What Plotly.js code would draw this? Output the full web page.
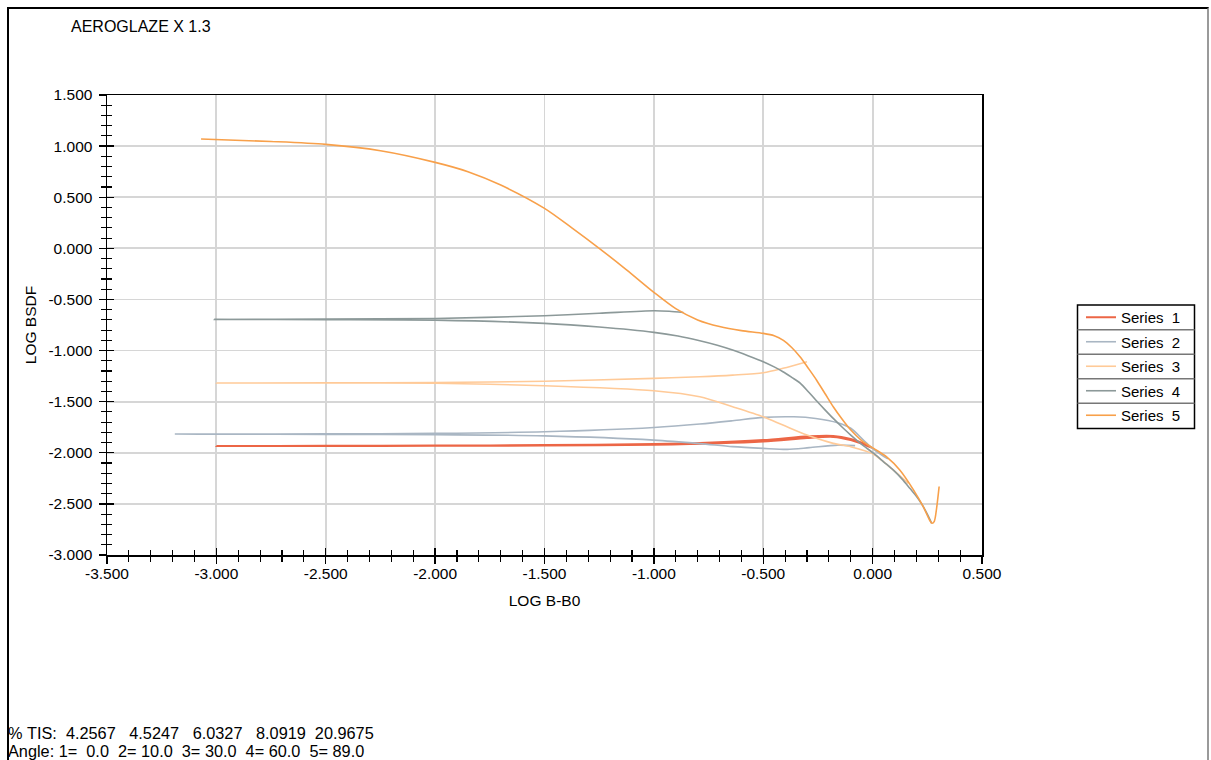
<!DOCTYPE html>
<html>
<head>
<meta charset="utf-8">
<script src="https://cdn.plot.ly/plotly-3.0.1.min.js"></script>
<style>
  html, body { margin: 0; padding: 0; background: #fff; }
  #chart { position: absolute; left: 0; top: 0; width: 1211px; height: 760px; }
  #frame { position: absolute; left: 7px; top: 7px; width: 1198px; height: 800px;
           border-left: 2px solid #000; border-top: 2px solid #000; border-right: 2px solid #9a9a9a;
           pointer-events: none; }
</style>
</head>
<body>
<div id="chart"></div>
<div id="frame"></div>
<script>
// ---------------- DATA ----------------
const chartTitle = 'AEROGLAZE X 1.3';
const xTitle = 'LOG B-B0';
const yTitle = 'LOG BSDF';
const seriesNames = ['Series\u00A0\u00A01', 'Series\u00A0\u00A02', 'Series\u00A0\u00A03', 'Series\u00A0\u00A04', 'Series\u00A0\u00A05'];

const xTickVals = [-3.5, -3.0, -2.5, -2.0, -1.5, -1.0, -0.5, 0.0, 0.5];
const xTickText = ['-3.500', '-3.000', '-2.500', '-2.000', '-1.500', '-1.000', '-0.500', '0.000', '0.500'];
const yTickVals = [1.5, 1.0, 0.5, 0.0, -0.5, -1.0, -1.5, -2.0, -2.5, -3.0];
const yTickText = ['1.500', '1.000', '0.500', '0.000', '-0.500', '-1.000', '-1.500', '-2.000', '-2.500', '-3.000'];

const tisValues = [4.2567, 4.5247, 6.0327, 8.0919, 20.9675];
const angles = [0.0, 10.0, 30.0, 60.0, 89.0];

// Series 1 (0 deg)
const s1x = [0.0, -0.05, -0.10, -0.18, -0.29, -0.50, -0.79, -1.0, -1.5, -2.0, -2.5, -3.0,
             -2.5, -2.0, -1.5, -1.0, -0.5, -0.3, -0.18, -0.10, -0.05, 0.0];
const s1y = [-1.955, -1.90, -1.865, -1.835, -1.838, -1.876, -1.905, -1.915, -1.925, -1.930, -1.932, -1.934,
             -1.933, -1.932, -1.930, -1.922, -1.890, -1.855, -1.845, -1.875, -1.910, -1.955];
// Series 2 (10 deg)
const s2x = [0.07, 0.04, 0.0, -0.04, -0.10, -0.16, -0.26, -0.36, -0.50, -0.64, -0.79, -1.0, -1.5, -2.0, -2.5, -3.0, -3.19,
             -3.0, -2.5, -2.0, -1.5, -1.0, -0.79, -0.64, -0.50, -0.39, -0.29, -0.16, -0.08];
const s2y = [-2.06, -2.02, -1.96, -1.88, -1.76, -1.706, -1.664, -1.648, -1.654, -1.687, -1.719, -1.752, -1.794, -1.810, -1.815, -1.817, -1.817,
             -1.818, -1.820, -1.822, -1.835, -1.876, -1.910, -1.940, -1.957, -1.967, -1.950, -1.925, -1.930];
// Series 3 (30 deg)
const s3x = [-0.30, -0.41, -0.50, -0.64, -0.79, -1.0, -1.5, -2.0, -2.5, -3.0,
             -2.5, -2.0, -1.5, -1.0, -0.79, -0.64, -0.50, -0.41, -0.30, -0.18, -0.10, 0.0, 0.095, 0.163];
const s3y = [-1.109, -1.174, -1.217, -1.240, -1.256, -1.272, -1.300, -1.312, -1.316, -1.318,
             -1.318, -1.320, -1.344, -1.393, -1.452, -1.550, -1.648, -1.729, -1.827, -1.908, -1.941, -2.010, -2.170, -2.300];
// Series 4 (60 deg)
const s4x = [-0.865, -0.93, -1.0, -1.25, -1.5, -2.0, -2.5, -3.01,
             -2.5, -2.0, -1.5, -1.25, -1.0, -0.89, -0.79, -0.71, -0.64, -0.57, -0.50, -0.45, -0.41, -0.37, -0.33, -0.295, -0.26,
             -0.22, -0.18, -0.14, -0.10, -0.05, 0.005, 0.05, 0.095, 0.135, 0.171, 0.20, 0.224, 0.25, 0.27];
const s4y = [-0.627, -0.615, -0.610, -0.635, -0.659, -0.686, -0.692, -0.695,
             -0.697, -0.702, -0.734, -0.770, -0.822, -0.858, -0.904, -0.948, -0.995, -1.050, -1.109, -1.160, -1.207, -1.262, -1.320, -1.400, -1.484,
             -1.575, -1.664, -1.748, -1.827, -1.918, -2.006, -2.088, -2.170, -2.258, -2.350, -2.425, -2.500, -2.600, -2.690];
// Series 5 (89 deg)
const s5x = [-3.07, -2.75, -2.5, -2.25, -2.0, -1.85, -1.7, -1.5, -1.375, -1.25, -1.125, -1.0, -0.9, -0.8, -0.7, -0.6, -0.5,
             -0.45, -0.408, -0.37, -0.332, -0.295, -0.256, -0.218, -0.18, -0.14, -0.103, -0.05, 0.005, 0.064, 0.125, 0.186, 0.232,
             0.262, 0.272, 0.282, 0.292, 0.304];
const s5y = [1.069, 1.045, 1.017, 0.955, 0.841, 0.750, 0.619, 0.391, 0.200, 0.0, -0.210, -0.430, -0.590, -0.700, -0.765, -0.805, -0.832,
             -0.855, -0.900, -0.970, -1.060, -1.170, -1.290, -1.420, -1.550, -1.670, -1.770, -1.880, -1.957, -2.040, -2.170, -2.360, -2.530,
             -2.665, -2.690, -2.670, -2.550, -2.330];

const seriesX = [s1x, s2x, s3x, s4x, s5x];
const seriesY = [s1y, s2y, s3y, s4y, s5y];
const seriesColors = ['#EC6646', '#A9B6C3', '#FFCA98', '#8C9999', '#F8A04A'];
const seriesWidths = [2, 1.6, 1.6, 1.6, 1.6];

// ---------------- LAYOUT HELPERS ----------------
const W = 1211, H = 760;
const M = { l: 107, r: W - 982, t: 95, b: H - 555 };
const PW = W - M.l - M.r, PH = H - M.t - M.b;
const px2paperX = X => (X - M.l) / PW;
const px2paperY = Y => (H - M.b - Y) / PH;

const FONT = 'Arial, "Liberation Sans", sans-serif';
const nb = s => s.replace(/ /g, '\u00A0');

const traces = seriesNames.map((name, i) => ({
  type: 'scatter', mode: 'lines', name: name,
  x: seriesX[i], y: seriesY[i],
  line: { color: seriesColors[i], width: seriesWidths[i], shape: 'spline', smoothing: 0.8 },
  legendgroup: 'g' + i, hoverinfo: 'x+y+name'
}));
// empty helper traces so that the overlay tick axes (inside ticks) get drawn
traces.push({ type: 'scatter', mode: 'lines', x: [], y: [], xaxis: 'x2', yaxis: 'y', showlegend: false, hoverinfo: 'skip' });
traces.push({ type: 'scatter', mode: 'lines', x: [], y: [], xaxis: 'x', yaxis: 'y2', showlegend: false, hoverinfo: 'skip' });

// legend geometry (px)
const legLeft = 1077.5, legRight = 1194.5, legTop = 305, legBottom = 428.5;
const legItemTop = 301;  // plotly legend box top
const sepYs = [329.8, 354.3, 378.8, 403.3];

const shapes = [
  { type: 'rect', xref: 'paper', yref: 'paper', x0: px2paperX(legLeft), x1: px2paperX(legRight),
    y0: px2paperY(legTop), y1: px2paperY(legBottom), line: { color: '#000', width: 1.5 }, fillcolor: 'rgba(0,0,0,0)' }
].concat(sepYs.map(Y => ({
  type: 'line', xref: 'paper', yref: 'paper', x0: px2paperX(legLeft), x1: px2paperX(legRight),
  y0: px2paperY(Y), y1: px2paperY(Y), line: { color: '#777', width: 1.5 }
})));

const tisText = '% TIS:' + tisValues.map((v, i) => {
  const s = v.toFixed(4);
  return (i === 0 ? '  ' : (s.length > 6 ? '  ' : '   ')) + s;
}).join('');
const angleText = 'Angle: ' + angles.map((a, i) => (i + 1) + '=' + a.toFixed(1).padStart(5, ' ')).join('  ');

const bottomFont = { family: FONT, size: 16.3, color: '#000' };
const annotations = [
  { text: nb(tisText), xref: 'paper', yref: 'paper', x: px2paperX(7), y: px2paperY(732.5), xanchor: 'left', yanchor: 'middle',
    showarrow: false, font: bottomFont, borderpad: 0 },
  { text: nb(angleText), xref: 'paper', yref: 'paper', x: px2paperX(7), y: px2paperY(751.3), xanchor: 'left', yanchor: 'middle',
    showarrow: false, font: bottomFont, borderpad: 0 }
];

const tickFont = { family: FONT, size: 15.5, color: '#000' };
const commonAxis = {
  showline: true, linecolor: '#000', linewidth: 1.5, mirror: true,
  showgrid: true, gridcolor: '#D6D6D6', gridwidth: 1.8, zeroline: false,
  ticks: 'outside', ticklen: 7, tickwidth: 1.3, tickcolor: '#000',
  tickmode: 'array', tickfont: tickFont,
  minor: { ticks: 'outside', ticklen: 5, tickwidth: 1.2, tickcolor: '#000', tick0: 0, dtick: 0.1, showgrid: false }
};
const overlayAxis = {
  showline: false, showgrid: false, zeroline: false, showticklabels: false,
  ticks: 'inside', ticklen: 7, tickwidth: 1.3, tickcolor: '#000', tickmode: 'array',
  minor: { ticks: 'inside', ticklen: 5, tickwidth: 1.2, tickcolor: '#000', tick0: 0, dtick: 0.1, showgrid: false }
};

const layout = {
  width: W, height: H,
  margin: M,
  paper_bgcolor: '#fff', plot_bgcolor: '#fff',
  font: { family: FONT, color: '#000' },
  title: { text: chartTitle, xref: 'container', yref: 'container', x: 71 / W, xanchor: 'left',
           y: 1 - 26 / H, yanchor: 'middle', font: { family: FONT, size: 16, color: '#000' } },
  xaxis: Object.assign({}, commonAxis, {
    range: [-3.5, 0.5], tickvals: xTickVals, ticktext: xTickText, ticklabelstandoff: -3,
    title: { text: xTitle, standoff: 14, font: { family: FONT, size: 15.5, color: '#000' } }
  }),
  yaxis: Object.assign({}, commonAxis, {
    range: [-3.0, 1.5], tickvals: yTickVals, ticktext: yTickText, ticklabelstandoff: 3,
    title: { text: yTitle, standoff: 8, font: { family: FONT, size: 15.5, color: '#000' } }
  }),
  xaxis2: Object.assign({}, overlayAxis, { overlaying: 'x', anchor: 'y', side: 'bottom', range: [-3.5, 0.5], tickvals: xTickVals }),
  yaxis2: Object.assign({}, overlayAxis, { overlaying: 'y', anchor: 'x', side: 'left', range: [-3.0, 1.5], tickvals: yTickVals }),
  showlegend: true,
  legend: {
    x: px2paperX(1081), xanchor: 'left', y: px2paperY(legItemTop), yanchor: 'top',
    bgcolor: 'rgba(0,0,0,0)', borderwidth: 0, tracegroupgap: 2,
    font: { family: FONT, size: 15, color: '#000' }, traceorder: 'grouped'
  },
  shapes: shapes,
  annotations: annotations
};

Plotly.newPlot('chart', traces, layout, { displayModeBar: false, staticPlot: true });
</script>
</body>
</html>
